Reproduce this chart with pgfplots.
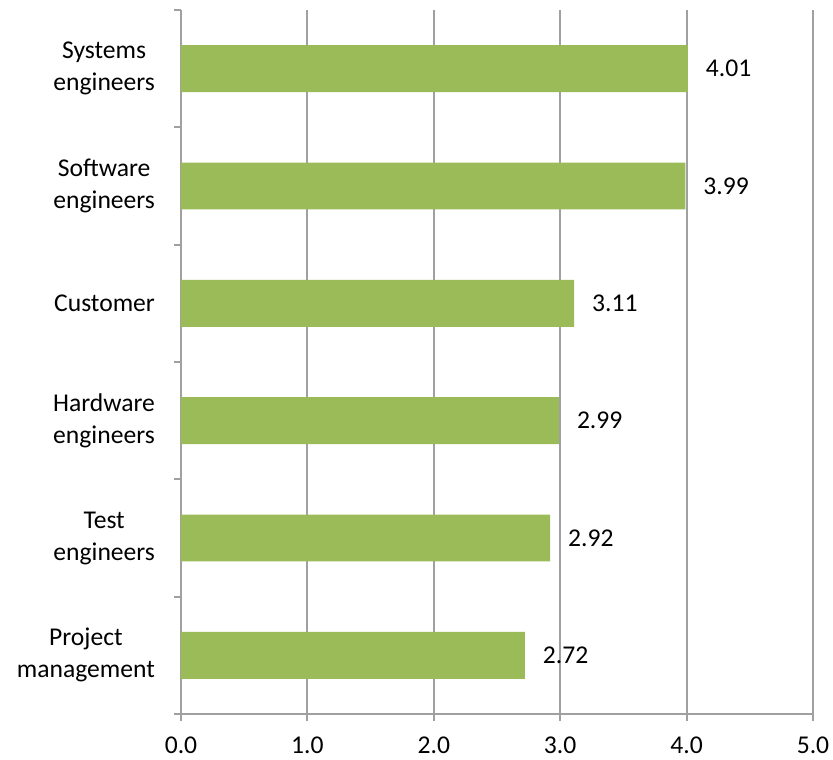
\documentclass[border=0pt]{standalone}
\usepackage{fontspec}
\setmainfont{Carlito}
\usepackage{pgfplots}
\pgfplotsset{compat=1.18}
\usetikzlibrary{calc}
\definecolor{bargreen}{HTML}{9BBB59}
\definecolor{gridgray}{HTML}{A0A0A0}

\begin{document}
\begin{tikzpicture}
\begin{axis}[
    scale only axis,
    width=316pt, height=352pt,
    xbar, bar shift=0pt, bar width=0.4,
    xmin=0, xmax=5,
    ymin=-0.5, ymax=5.5,
    axis x line*=bottom, axis y line*=left,
    axis line style={gridgray, line width=1pt},
    xtick={0,1,...,5},
    xticklabel style={yshift=-4.5pt, /pgf/number format/.cd, fixed, fixed zerofill, precision=1},
    /pgf/number format/assume math mode=true,
    ytick={0,...,5},
    yticklabels={{Project\\management},{Test\\engineers},{Hardware\\engineers},Customer,{Software\\engineers},{Systems\\engineers}},
    yticklabel style={align=center, xshift=-6pt},
    minor ytick={-0.5,0.5,...,5.5},
    tick align=outside,
    major tick length=3.5pt,
    minor tick length=3.5pt,
    every tick/.style={gridgray, line width=1pt},
    ytick style={draw=none},
    minor y tick style={draw=gridgray, line width=1pt},
    xmajorgrids,
    major grid style={gridgray, line width=1pt},
    font=\fontsize{12.8}{16}\selectfont,
    ticklabel style={font=\fontsize{12.8}{16}\selectfont},
    nodes near coords,
    nodes near coords style={anchor=west, xshift=5.5pt, font=\fontsize{12.8}{16}\selectfont,
        /pgf/number format/.cd, fixed, fixed zerofill, precision=2, assume math mode=true},
    point meta=x,
]
\addplot[fill=bargreen, draw=none] coordinates {
    (2.72,0)
    (2.92,1)
    (2.99,2)
    (3.11,3)
    (3.99,4)
    (4.01,5)
};
\end{axis}
\pgfresetboundingbox
\path ($(current axis.south west)+(-90.5pt,-22.5pt)$) rectangle ($(current axis.north east)+(10pt,5pt)$);
\end{tikzpicture}
\end{document}
